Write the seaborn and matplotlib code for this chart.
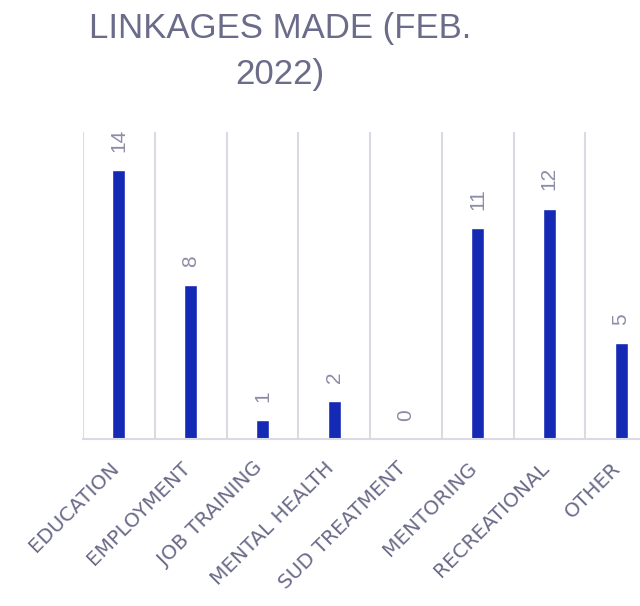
import matplotlib
matplotlib.use("Agg")
import matplotlib.pyplot as plt
import matplotlib.transforms as mtransforms
import seaborn as sns
import pandas as pd
import numpy as np

categories = ["EDUCATION", "EMPLOYMENT", "JOB TRAINING", "MENTAL HEALTH",
              "SUD TREATMENT", "MENTORING", "RECREATIONAL", "OTHER"]
values = [14, 8, 1, 2, 0, 11, 12, 5]
title = "LINKAGES MADE (FEB.\n2022)"

sns.set_theme(style="white")
plt.rcParams["font.family"] = ["Liberation Sans", "DejaVu Sans"]

bar_color = "#1429B4"
title_color = "#6B6B8A"
label_color = "#8C8CA6"
tick_color = "#6B6B8A"
grid_color = "#DADAE2"

df = pd.DataFrame({"category": categories, "value": values})

fig = plt.figure(figsize=(6.4, 6.06), dpi=100)
ax = fig.add_axes([83/640, 1 - 439/606, 574/640, (439 - 131.7)/606])

sns.barplot(data=df, x="category", y="value", color=bar_color, width=0.18,
            saturation=1, ax=ax)

ax.set_ylim(0, 16)
ax.set_xlim(-0.5, len(categories) - 0.5)
ax.set_xticks(np.arange(-0.5, len(categories), 1.0), minor=True)
ax.grid(False)
ax.grid(True, which="minor", axis="x", color=grid_color, linewidth=1.5)
ax.tick_params(axis="x", which="both", length=0)
ax.set_yticks([])
ax.set_xlabel("")
ax.set_ylabel("")
for s in ["top", "right", "left"]:
    ax.spines[s].set_visible(False)
ax.spines["bottom"].set_color(grid_color)
ax.spines["bottom"].set_linewidth(1.5)

ax.set_xticks(range(len(categories)))
ax.set_xticklabels(categories, rotation=45, ha="right", rotation_mode="anchor",
                   fontsize=14.5, color=tick_color, family=["DejaVu Sans"])
ax.tick_params(axis="x", pad=14)
shift = mtransforms.ScaledTranslation(-10/100, 0, fig.dpi_scale_trans)
for lbl in ax.get_xticklabels():
    lbl.set_transform(lbl.get_transform() + shift)

for i, v in enumerate(values):
    ax.annotate(str(v), (i, v), xytext=(0, 13), textcoords="offset points",
                rotation=90, ha="center", va="bottom", fontsize=15,
                color=label_color)

fig.text(280/640, 1 - 12/606, title, ha="center", va="top", fontsize=25,
         color=title_color, linespacing=1.5)

fig.savefig("out.png", dpi=100)
